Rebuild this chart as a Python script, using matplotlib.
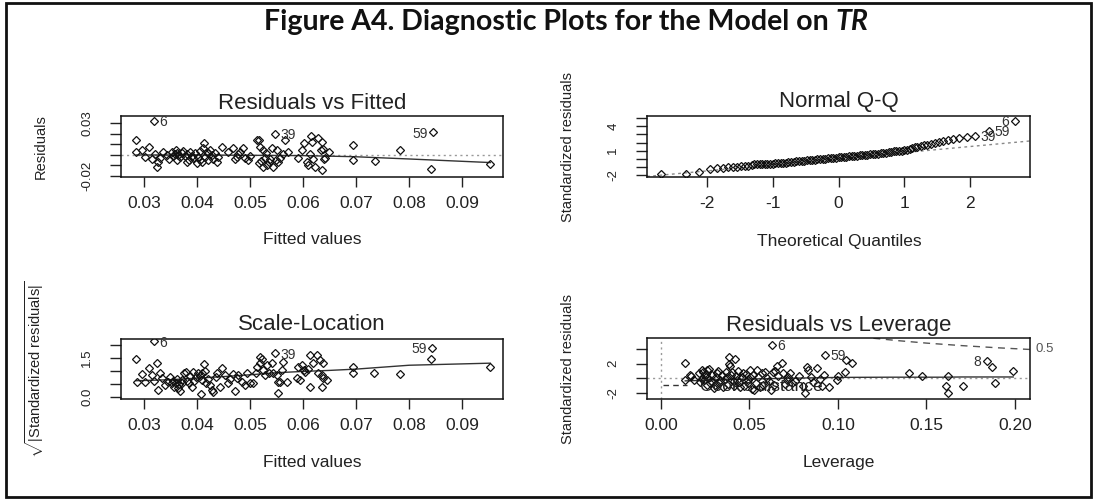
import matplotlib
matplotlib.use("Agg")
import matplotlib.pyplot as plt
from matplotlib.lines import Line2D
from matplotlib.patches import Rectangle

plt.rcParams['font.family'] = ['Liberation Sans', 'DejaVu Sans']
plt.rcParams['mathtext.fontset'] = 'custom'
plt.rcParams['mathtext.rm'] = 'Liberation Sans'
plt.rcParams['mathtext.it'] = 'Liberation Sans:italic'

W, H = 1095, 503
TXT = '#222222'

# ---- Residuals vs Fitted ----
fit1 = [0.0285, 0.0285, 0.0296, 0.0302, 0.0310, 0.0324, 0.0315, 0.0330, 0.0336, 0.0343, 0.0326, 0.0320,
        0.0352, 0.0355, 0.0362, 0.0368, 0.0374, 0.0381, 0.0384, 0.0390, 0.0396, 0.0402, 0.0409, 0.0411,
        0.0413, 0.0418, 0.0421, 0.0428, 0.0434, 0.0440, 0.0447, 0.0437, 0.0399, 0.0381, 0.0362,
        0.0358, 0.0365, 0.0371, 0.0377, 0.0387, 0.0393, 0.0405, 0.0415, 0.0425, 0.0431, 0.0348, 0.0360,
        0.0405, 0.0420,
        0.0459, 0.0468, 0.0475, 0.0481, 0.0486, 0.0491, 0.0497, 0.0500, 0.0472, 0.0478,
        0.0514, 0.0516, 0.0519, 0.0524, 0.0516, 0.0525, 0.0532, 0.0535, 0.0541, 0.0544, 0.0550, 0.0553,
        0.0557, 0.0566, 0.0563, 0.0572, 0.0528, 0.0538, 0.0548, 0.0530, 0.0520,
        0.0591, 0.0598, 0.0601, 0.0607, 0.0610, 0.0615, 0.0616, 0.0619, 0.0623, 0.0629, 0.0633, 0.0635,
        0.0635, 0.0640, 0.0642, 0.0648, 0.0613, 0.0638,
        0.0695, 0.0694, 0.0736, 0.0783, 0.0841, 0.0953]
res1 = [0.0143, 0.0032, 0.0048, -0.0022, 0.0079, -0.0111, -0.0041, -0.0032, 0.0032, 0.0000, -0.0063, 0.0010,
        0.0032, -0.0010, 0.0022, -0.0022, 0.0041, 0.0010, -0.0048, -0.0010, 0.0022, -0.0022, -0.0063, 0.0063,
        0.0111, 0.0032, -0.0048, 0.0000, 0.0022, -0.0022, 0.0079, -0.0063, -0.0079, -0.0063, -0.0048,
        0.0010, 0.0000, 0.0015, -0.0005, 0.0028, -0.0030, 0.0040, -0.0015, 0.0045, -0.0035, -0.0040, 0.0050,
        -0.0045, 0.0015,
        0.0032, 0.0063, -0.0016, 0.0032, 0.0063, -0.0032, -0.0048, -0.0010, -0.0041, 0.0010,
        0.0143, 0.0138, 0.0079, 0.0048, -0.0079, -0.0117, -0.0095, -0.0063, 0.0063, -0.0117, 0.0048, -0.0063,
        -0.0032, 0.0143, 0.0010, 0.0032, -0.0030, -0.0040, -0.0050, 0.0020, -0.0055,
        -0.0032, 0.0048, 0.0111, -0.0063, -0.0095, 0.0181, 0.0127, -0.0041, -0.0117, 0.0159, 0.0048, 0.0127,
        -0.0143, -0.0041, -0.0032, 0.0032, 0.0010, 0.0060,
        0.0095, -0.0048, -0.0057, 0.0048, -0.0130, -0.0089]
id_fit1 = [0.0318, 0.0547, 0.0845]
id_res1 = [0.0327, 0.0200, 0.0216]
id_lab1 = ['6', '39', '59']
smooth_fit1 = [0.0285, 0.040, 0.050, 0.060, 0.0695, 0.080, 0.0953]
smooth_res1 = [0.0000, 0.0000, -0.0003, -0.0006, -0.0016, -0.0038, -0.0072]

# ---- Normal Q-Q ----
qq_theo = [-2.70, -2.31, -2.12, -1.95, -1.85, -1.76, -1.68, -1.61, -1.54, -1.48, -1.42, -1.37, -1.32,
           -1.28, -1.24, -1.20, -1.16, -1.12, -1.08, -1.04, -1.00,
           -0.96, -0.92, -0.88, -0.84, -0.80, -0.76, -0.72, -0.68, -0.64, -0.60, -0.56, -0.52, -0.48,
           -0.44, -0.40, -0.36, -0.32, -0.28, -0.24, -0.20, -0.16, -0.12, -0.08, -0.04, 0.00, 0.04,
           0.08, 0.12, 0.16, 0.20, 0.24, 0.28, 0.32, 0.36, 0.40, 0.44, 0.48, 0.52, 0.56, 0.60, 0.64,
           0.68, 0.72, 0.76, 0.80, 0.84, 0.88, 0.92, 0.96,
           1.00, 1.04, 1.08, 1.12, 1.16, 1.20, 1.25, 1.30, 1.35, 1.40, 1.46, 1.52, 1.59, 1.66, 1.74,
           1.83, 1.95]
qq_std = [-1.91, -1.88, -1.63, -1.30, -1.17, -1.10, -1.04, -1.00, -0.97, -0.94, -0.90, -0.86, -0.80,
          -0.70, -0.66, -0.66, -0.66, -0.65, -0.65, -0.64, -0.62,
          -0.58, -0.56, -0.52, -0.50, -0.46, -0.42, -0.40, -0.37, -0.33, -0.31, -0.27, -0.23, -0.20,
          -0.17, -0.15, -0.11, -0.08, -0.04, -0.02, 0.02, 0.05, 0.08, 0.10, 0.14, 0.17, 0.20,
          0.22, 0.26, 0.30, 0.32, 0.35, 0.39, 0.42, 0.44, 0.48, 0.51, 0.55, 0.57, 0.61, 0.63, 0.67,
          0.70, 0.75, 0.80, 0.85, 0.90, 0.94, 0.97, 1.01,
          1.04, 1.08, 1.15, 1.28, 1.40, 1.50, 1.58, 1.66, 1.74, 1.80, 1.92, 2.05, 2.20, 2.33, 2.45,
          2.58, 2.73]
id_theo2 = [2.07, 2.28, 2.68]
id_std2 = [2.85, 3.43, 4.70]
id_lab2 = ['39', '59', '6']
qq_ref_x = [-2.91, 2.91]
qq_ref_y = [-2.18, 2.20]

# ---- Scale-Location ----
fit3 = [0.0285, 0.0286, 0.0296, 0.0302, 0.0310, 0.0315, 0.0318, 0.0324, 0.0327, 0.0330, 0.0333,
        0.0340, 0.0346, 0.0349, 0.0352, 0.0357, 0.0360, 0.0365, 0.0368, 0.0371, 0.0375, 0.0379, 0.0384,
        0.0387, 0.0390, 0.0393, 0.0398, 0.0402, 0.0407, 0.0409, 0.0413, 0.0417, 0.0421, 0.0425, 0.0428,
        0.0431, 0.0436, 0.0438, 0.0443, 0.0448, 0.0453,
        0.0355, 0.0362, 0.0366, 0.0372, 0.0381, 0.0395, 0.0405, 0.0410, 0.0415,
        0.0459, 0.0462, 0.0468, 0.0472, 0.0475, 0.0478, 0.0484, 0.0491, 0.0494, 0.0499,
        0.0506, 0.0511, 0.0514, 0.0518, 0.0519, 0.0522, 0.0525, 0.0528, 0.0532, 0.0536, 0.0541, 0.0544,
        0.0550, 0.0553, 0.0557, 0.0560, 0.0563, 0.0569, 0.0553, 0.0588, 0.0591,
        0.0598, 0.0601, 0.0613, 0.0626, 0.0632, 0.0638, 0.0619, 0.0610, 0.0604, 0.0629, 0.0635, 0.0645,
        0.0638, 0.0613, 0.0635, 0.0594,
        0.0695, 0.0695, 0.0734, 0.0783, 0.0841, 0.0953]
srt3 = [1.45, 0.56, 0.87, 0.56, 1.12, 0.85, 0.60, 1.29, 0.26, 0.91, 0.71,
        0.45, 0.58, 0.78, 0.54, 0.39, 0.52, 0.33, 0.23, 0.65, 0.91, 0.95, 0.52,
        0.80, 0.39, 0.97, 0.75, 0.93, 0.10, 0.65, 1.26, 0.52, 0.67, 0.45, 0.26,
        0.19, 0.78, 0.91, 0.39, 1.10, 0.84,
        0.62, 0.70, 0.48, 0.55, 0.62, 0.60, 0.80, 0.90, 0.98,
        0.52, 0.67, 0.88, 0.22, 0.71, 0.84, 0.58, 0.45, 0.91, 0.52,
        0.52, 0.91, 1.16, 1.55, 1.29, 1.45, 1.03, 0.84, 1.23, 0.93, 1.29, 0.91,
        0.84, 0.13, 0.58, 1.03, 1.36, 0.58, 0.58, 0.71, 1.16,
        1.23, 1.03, 1.62, 1.62, 1.42, 1.29, 1.29, 1.06, 0.97, 0.91, 0.84, 0.65,
        0.71, 0.39, 0.39, 0.65,
        1.16, 0.91, 0.91, 0.87, 1.45, 1.16]
id_fit3 = [0.0318, 0.0547, 0.0844]
id_srt3 = [2.15, 1.68, 1.89]
id_lab3 = ['6', '39', '59']
smooth_fit3 = [0.0285, 0.035, 0.040, 0.045, 0.050, 0.055, 0.060, 0.065, 0.070, 0.080, 0.0953]
smooth_srt3 = [0.62, 0.66, 0.72, 0.78, 0.85, 0.93, 0.98, 1.02, 1.07, 1.22, 1.30]

# ---- Residuals vs Leverage ----
lev4 = [0.0137, 0.0137, 0.0165, 0.0169, 0.0184, 0.0231, 0.0231, 0.0250, 0.0260, 0.0260, 0.0278, 0.0297,
        0.0316, 0.0335, 0.0353, 0.0372, 0.0387, 0.0387, 0.0390, 0.0419, 0.0401, 0.0429, 0.0447, 0.0466,
        0.0494, 0.0504, 0.0504, 0.0514, 0.0523, 0.0542, 0.0570, 0.0579, 0.0598, 0.0623, 0.0635, 0.0645,
        0.0655, 0.0683, 0.0692, 0.0711, 0.0730, 0.0739, 0.0814, 0.0824, 0.0833, 0.0881, 0.0899,
        0.0909, 0.0994, 0.1040, 0.1046, 0.1078, 0.1403, 0.1473, 0.1623, 0.1609, 0.1620, 0.1708, 0.1868,
        0.1887, 0.1990,
        0.0215, 0.0222, 0.0240, 0.0245, 0.0255, 0.0268, 0.0272, 0.0285, 0.0290, 0.0305, 0.0310, 0.0322,
        0.0330, 0.0345, 0.0360, 0.0365, 0.0378, 0.0395, 0.0410, 0.0415, 0.0425, 0.0435, 0.0440, 0.0455,
        0.0470, 0.0480, 0.0490, 0.0520, 0.0535, 0.0550, 0.0560, 0.0590, 0.0610, 0.0640, 0.0660, 0.0700,
        0.0720, 0.0760, 0.0780, 0.0800, 0.0850, 0.0860, 0.0920, 0.0950, 0.1000]
std4 = [2.03, -0.23, 0.45, 0.31, -0.23, 1.10, -0.06, 0.36, 1.12, -0.91, -0.68, -1.35,
        0.68, -0.23, -1.13, 0.23, 2.00, 2.92, 1.66, 2.56, 0.88, -0.23, -1.13, 0.68,
        -0.68, 0.23, 1.12, -1.49, -1.58, 1.13, 0.77, -0.91, 0.00, -1.62, 0.88, 0.94,
        1.65, 2.03, 0.77, -0.23, 0.68, -0.68, -2.03, 1.58, 1.12, 1.39, -0.05,
        -1.08, -0.23, 0.81, 2.47, 2.03, 0.67, 0.31, 0.31, -1.08, -2.03, -1.08, 1.48,
        -0.68, 0.94,
        0.70, -0.45, 0.90, -0.20, 0.55, 0.10, 1.20, -0.40, 0.45, -0.90, 0.15, 1.00,
        -0.60, 0.40, -0.10, 0.80, -0.75, 0.50, -0.30, -1.10, 0.30, 0.95, -0.55, 0.15,
        -1.00, 0.60, -0.20, 0.50, -0.60, 0.20, -1.20, 0.90, -0.40, -0.90, 0.30, -0.80,
        0.20, -0.40, 0.30, -1.00, 0.20, -0.50, 0.50, -1.20, 0.30]
id_lev4 = [0.0626, 0.0927, 0.1840]
id_std4 = [4.50, 3.15, 2.38]
id_lab4 = ['6', '59', '8']
smooth_lev4 = [0.0137, 0.040, 0.070, 0.100, 0.130, 0.160, 0.170, 0.199]
smooth_std4 = [-0.35, -0.15, 0.00, 0.12, 0.15, 0.15, 0.18, 0.18]
cook_lev = [0.120, 0.135, 0.150, 0.170, 0.190, 0.2085]
cook_std = [5.42, 5.07, 4.76, 4.42, 4.13, 3.90]
cook_level = '0.5'

fig = plt.figure(figsize=(W / 100, H / 100), dpi=100)


def panel(x0, y0, x1, y1):
    return fig.add_axes([x0 / W, 1 - y1 / H, (x1 - x0) / W, (y1 - y0) / H])


def ftext(px, py, s, **kw):
    fig.text(px / W, 1 - py / H, s, ha='center', va='center', color=TXT, **kw)


def style(ax, xt, xl, yt, yl):
    ax.set_xticks(xt)
    ax.set_xticklabels(xl, fontsize=12.5, color=TXT)
    ax.set_yticks(yt)
    ax.set_yticklabels(yl, fontsize=9.5, rotation=90, va='center', color=TXT)
    ax.tick_params(axis='x', length=7.5, width=1, pad=6, color='#222')
    ax.tick_params(axis='y', length=8, width=1, pad=12, color='#222')
    for s in ax.spines.values():
        s.set_linewidth(1.1)
        s.set_color('#111')


def pts(ax, x, y):
    ax.plot(x, y, 'D', ls='none', ms=4.4, mfc='none', mec='#111', mew=0.9, clip_on=True)


def ids(ax, x, y, labs):
    mid = (min(x) + max(x)) / 2
    for xi, yi, lab in zip(x, y, labs):
        right = xi <= mid
        ax.annotate(lab, (xi, yi), xytext=(4 if right else -4, -1), textcoords='offset points',
                    ha='left' if right else 'right', va='center', fontsize=10, color='#333')


# panel 1
ax1 = panel(121, 116, 503, 177)
ax1.axhline(0, color='#999', ls=(0, (1.5, 2.5)), lw=1)
ax1.plot(smooth_fit1, smooth_res1, color='#333', lw=1)
pts(ax1, fit1, res1)
pts(ax1, id_fit1, id_res1)
ids(ax1, id_fit1, id_res1, id_lab1)
ax1.set_xlim(0.02566, 0.0977)
ax1.set_ylim(-0.02095, 0.0371)
style(ax1, [0.03, 0.04, 0.05, 0.06, 0.07, 0.08, 0.09],
      ['0.03', '0.04', '0.05', '0.06', '0.07', '0.08', '0.09'],
      [-0.02, -0.01, 0.0, 0.01, 0.02, 0.03], ['-0.02', '', '', '', '', '0.03'])

# panel 2
ax2 = panel(647, 116, 1030, 177)
ax2.plot(qq_ref_x, qq_ref_y, color='#888', ls=(0, (2, 2.5)), lw=1)
pts(ax2, qq_theo, qq_std)
pts(ax2, id_theo2, id_std2)
ids(ax2, id_theo2, id_std2, id_lab2)
ax2.set_xlim(-2.91, 2.91)
ax2.set_ylim(-2.247, 5.28)
style(ax2, [-2, -1, 0, 1, 2], ['-2', '-1', '0', '1', '2'],
      [-2, -1, 0, 1, 2, 3, 4, 5], ['-2', '', '', '1', '', '', '4', ''])

# panel 3
ax3 = panel(121, 339.3, 503, 399.3)
ax3.plot(smooth_fit3, smooth_srt3, color='#333', lw=1)
pts(ax3, fit3, srt3)
pts(ax3, id_fit3, id_srt3)
ids(ax3, id_fit3, id_srt3, id_lab3)
ax3.set_xlim(0.02566, 0.0977)
ax3.set_ylim(-0.10, 2.225)
style(ax3, [0.03, 0.04, 0.05, 0.06, 0.07, 0.08, 0.09],
      ['0.03', '0.04', '0.05', '0.06', '0.07', '0.08', '0.09'],
      [0.0, 0.5, 1.0, 1.5, 2.0], ['0.0', '', '', '1.5', ''])

# panel 4
ax4 = panel(647, 338.3, 1030, 399.3)
ax4.axhline(0, color='#999', ls=(0, (1.5, 2.5)), lw=1)
ax4.axvline(0, color='#999', ls=(0, (1.5, 2.5)), lw=1)
ax4.plot(smooth_lev4, smooth_std4, color='#333', lw=1)
ax4.plot(cook_lev, cook_std, color='#555', ls=(0, (5, 4)), lw=1)
pts(ax4, lev4, std4)
pts(ax4, id_lev4, id_std4)
ids(ax4, id_lev4, id_std4, id_lab4)
ax4.set_xlim(-0.0079, 0.2085)
ax4.set_ylim(-2.84, 5.41)
style(ax4, [0.0, 0.05, 0.10, 0.15, 0.20], ['0.00', '0.05', '0.10', '0.15', '0.20'],
      [-2, 0, 2, 4], ['-2', '', '2', ''])
ax4.annotate(cook_level, (1, cook_std[-1]), xycoords=('axes fraction', 'data'),
             xytext=(4, 0), textcoords='offset points', ha='left', va='center',
             fontsize=9.5, color='#555', annotation_clip=False)
ax4.legend([Line2D([0], [0], color='#333', ls=(0, (4, 3)), lw=1)], ["Cook's distance"],
           loc='lower left', bbox_to_anchor=(0.029, 0), borderaxespad=0, borderpad=0.29,
           handlelength=1.4, handletextpad=0.75, frameon=False, fontsize=12.5,
           labelcolor=TXT)

# titles and axis labels
ftext(312, 103, 'Residuals vs Fitted', fontsize=16)
ftext(839, 101.5, 'Normal Q-Q', fontsize=16)
ftext(312, 325, 'Scale-Location', fontsize=16)
ftext(839, 325, 'Residuals vs Leverage', fontsize=16)
ftext(312, 240, 'Fitted values', fontsize=12.5)
ftext(839, 241.5, 'Theoretical Quantiles', fontsize=12.5)
ftext(312, 462.5, 'Fitted values', fontsize=12.5)
ftext(839, 462.5, 'Leverage', fontsize=12.5)
ftext(41, 147, 'Residuals', fontsize=10.5, rotation=90)
ftext(568, 146.5, 'Standardized residuals', fontsize=10.5, rotation=90)
ftext(35, 369, r'$\sqrt{|\mathrm{Standardized\ residuals}|}$', fontsize=10.5, rotation=90)
ftext(568, 369, 'Standardized residuals', fontsize=10.5, rotation=90)

# figure caption
fig.text(829 / W, 1 - 22 / H, 'Figure A4. Diagnostic Plots for the Model on', ha='right', va='center',
         fontsize=20.5, fontweight='bold', family=['Lato', 'DejaVu Sans'], color='#111')
fig.text(835 / W, 1 - 22 / H, 'TR', ha='left', va='center', fontsize=20.5, fontweight='bold',
         fontstyle='italic', family=['Lato', 'DejaVu Sans'], color='#111')

fig.patches.append(Rectangle((6 / W, 1 - 497 / H), 1085 / W, 494 / H, transform=fig.transFigure,
                             fill=False, lw=2, ec='#111'))

fig.savefig('out.png', dpi=100)
